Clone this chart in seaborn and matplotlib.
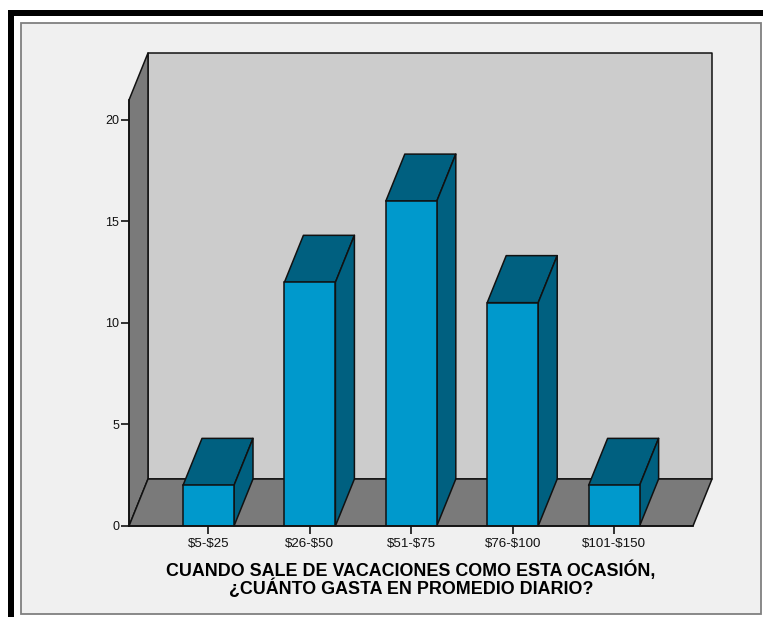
import matplotlib
matplotlib.use("Agg")
import matplotlib.pyplot as plt
from matplotlib.patches import Polygon, Rectangle
import pandas as pd
import seaborn as sns

categories = ["$5-$25", "$26-$50", "$51-$75", "$76-$100", "$101-$150"]
values = [2, 12, 16, 11, 2]
y_ticks = [0, 5, 10, 15, 20]
xlabel = "CUANDO SALE DE VACACIONES COMO ESTA OCASIÓN,\n¿CUÁNTO GASTA EN PROMEDIO DIARIO?"

W, H = 763, 617
sns.set_theme(style="white")
plt.rcParams["font.family"] = ["Liberation Sans", "DejaVu Sans"]
plt.rcParams["text.parse_math"] = False

FRONT = "#0099CC"
DARK = "#006080"
WALL = "#CCCCCC"
SHADE = "#7A7A7A"
PANEL = "#F0F0F0"
INK = "#111111"

fig = plt.figure(figsize=(W / 100, H / 100), dpi=100, facecolor="white")

def frame(x0, y0, x1, y1, **kw):
    fig.add_artist(Rectangle((x0 / W, 1 - y1 / H), (x1 - x0) / W, (y1 - y0) / H,
                             transform=fig.transFigure, zorder=-1, **kw))

frame(8, 10, W + 5, 16, facecolor="black", edgecolor="none")
frame(8, 10, 14, H + 5, facecolor="black", edgecolor="none")
frame(20.5, 22.5, 761, 613.5, facecolor=PANEL, edgecolor="#808080", linewidth=1.3)

ax = fig.add_axes([129 / W, 1 - 526 / H, 564 / W, 426 / H])
ax.set_zorder(2)
ax.patch.set_visible(False)

df = pd.DataFrame({"category": categories, "value": values})
sns.barplot(data=df, x="category", y="value", ax=ax, color=FRONT, saturation=1,
            width=0.503, edgecolor=INK, linewidth=1.1, zorder=5)

x_lo, x_hi = -0.784, 4.778
y_hi = 20.98
ax.set_xlim(x_lo, x_hi)
ax.set_ylim(0, y_hi)
dx = 19 / 101.4    # depth offset, in category units
dy = 47 / 20.3     # depth offset, in value units

def face(pts, color, z):
    ax.add_patch(Polygon(pts, closed=True, facecolor=color, edgecolor=INK,
                         linewidth=1.1, zorder=z, clip_on=False, joinstyle="round"))

bars = list(ax.patches)
face([(x_lo + dx, dy), (x_hi + dx, dy), (x_hi + dx, y_hi + dy), (x_lo + dx, y_hi + dy)], WALL, 1)
face([(x_lo, 0), (x_lo + dx, dy), (x_lo + dx, y_hi + dy), (x_lo, y_hi)], SHADE, 2)
face([(x_lo, 0), (x_hi, 0), (x_hi + dx, dy), (x_lo + dx, dy)], SHADE, 2)

for bar in bars:
    x0, top = bar.get_x(), bar.get_height()
    x1 = x0 + bar.get_width()
    face([(x0, top), (x1, top), (x1 + dx, top + dy), (x0 + dx, top + dy)], DARK, 4)
    face([(x1, 0), (x1 + dx, dy), (x1 + dx, top + dy), (x1, top)], DARK, 4)

ax.set_yticks(y_ticks)
ax.set_xlabel("")
ax.set_ylabel("")
ax.tick_params(axis="both", length=6, width=1.2, color=INK, labelcolor=INK,
               left=True, bottom=True)
ax.tick_params(axis="y", labelsize=9, pad=1)
ax.tick_params(axis="x", labelsize=9.6, pad=2.5)
for s in ("top", "right"):
    ax.spines[s].set_visible(False)
for s in ("left", "bottom"):
    ax.spines[s].set_color(INK)
    ax.spines[s].set_linewidth(1.2)
    ax.spines[s].set_zorder(6)

fig.text(411 / W, 1 - 579 / H, xlabel, ha="center", va="center", fontsize=12.9,
         fontweight="bold", color="black", linespacing=0.88)

fig.savefig("out.png", dpi=100)
